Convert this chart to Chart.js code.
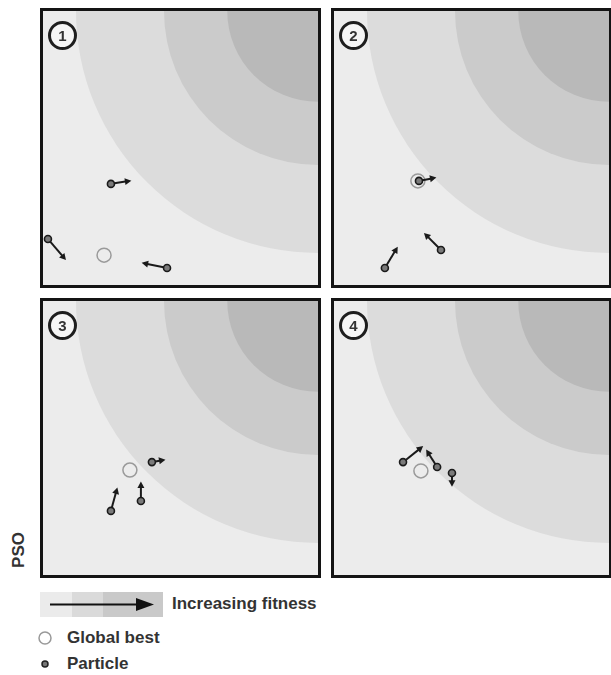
<!DOCTYPE html>
<html>
<head>
<meta charset="utf-8">
<script src="https://cdn.jsdelivr.net/npm/chart.js@4.4.0/dist/chart.umd.min.js"></script>
<style>
 body { margin: 0; background: #fff; font-family: "Liberation Sans", Arial, sans-serif; }
 .panel { position: absolute; width: 275px; height: 274px; border: 3px solid #141414; background: #ececec; overflow: hidden; }
 .panel canvas { position: absolute; left: -20px; top: -20px; display: block; }
 #pso { position: absolute; font-size: 17px; font-weight: bold; color: #333;
        transform: translate(-50%, -50%) rotate(-90deg); left: 19px; top: 550px; }
 .lg { position: absolute; font-size: 17px; font-weight: bold; color: #333; line-height: 20px; }
 .bar { position: absolute; left: 40px; top: 592px; width: 123px; height: 25px; }
 .bar div { position: absolute; top: 0; height: 25px; }
</style>
</head>
<body>

<div class="panel" style="left:40px; top:8px;"><canvas id="c1" width="315" height="314"></canvas></div>
<div class="panel" style="left:331px; top:8px;"><canvas id="c2" width="315" height="314"></canvas></div>
<div class="panel" style="left:40px; top:298px;"><canvas id="c3" width="315" height="314"></canvas></div>
<div class="panel" style="left:331px; top:298px;"><canvas id="c4" width="315" height="314"></canvas></div>

<div id="pso">PSO</div>

<div class="bar">
  <div style="left:0; width:32px; background:#ebebeb;"></div>
  <div style="left:32px; width:31px; background:#dadada;"></div>
  <div style="left:63px; width:60px; background:#c9c9c9;"></div>
  <svg width="123" height="25" style="position:absolute;left:0;top:0;">
    <line x1="10" y1="12.5" x2="100" y2="12.5" stroke="#111" stroke-width="2"/>
    <polygon points="96,6 114,12.5 96,19" fill="#111"/>
  </svg>
</div>
<div class="lg" style="left:172px; top:594px;">Increasing fitness</div>
<svg width="20" height="20" style="position:absolute;left:35px;top:628px;">
  <circle cx="10" cy="10" r="6" fill="none" stroke="#999" stroke-width="1.5"/>
</svg>
<div class="lg" style="left:67px; top:628px;">Global best</div>
<svg width="20" height="20" style="position:absolute;left:35px;top:654px;">
  <circle cx="10" cy="10" r="3" fill="#777" stroke="#222" stroke-width="1.5"/>
</svg>
<div class="lg" style="left:67px; top:654px;">Particle</div>

<script>
// fitness contours (centre in the top-right corner, radii in data units)
var contourCenter = [100, 100];
var contourRadii = [88, 56, 33];
var contourColors = ['#dcdcdc', '#cbcbcb', '#b9b9b9'];
var outerColor = '#ececec';

var stepLabels = ['1', '2', '3', '4'];

// global best per step
var bestX = [22.2, 30.5, 31.6, 31.6];
var bestY = [10.9, 38.0, 38.3, 38.0];

// particle positions per step
var particleX = [
  [24.7, 1.8, 45.1],
  [30.9, 38.9, 18.5],
  [39.6, 24.7, 35.6],
  [25.1, 37.5, 42.9]
];
var particleY = [
  [36.9, 16.8, 6.2],
  [38.0, 12.8, 6.2],
  [41.2, 23.4, 27.0],
  [41.2, 39.4, 37.2]
];

// particle velocities per step
var velocityX = [
  [6.9, 6.2, -8.7],
  [5.8, -5.8, 4.4],
  [4.4, 2.2, 0.0],
  [6.9, -3.7, 0.0]
];
var velocityY = [
  [1.1, -7.3, 1.8],
  [1.1, 5.8, 7.3],
  [0.8, 8.0, 6.6],
  [5.5, 5.9, -4.4]
];

var fitnessPlugin = {
  id: 'fitness',
  beforeDatasetsDraw: function(chart) {
    var ctx = chart.ctx, a = chart.chartArea;
    var xs = chart.scales.x, ys = chart.scales.y;
    var cx = xs.getPixelForValue(contourCenter[0]);
    var cy = ys.getPixelForValue(contourCenter[1]);
    ctx.save();
    ctx.beginPath();
    ctx.rect(a.left, a.top, a.right - a.left, a.bottom - a.top);
    ctx.clip();
    ctx.fillStyle = outerColor;
    ctx.fillRect(a.left, a.top, a.right - a.left, a.bottom - a.top);
    for (var i = 0; i < contourRadii.length; i++) {
      var r = xs.getPixelForValue(contourCenter[0] + contourRadii[i]) - cx;
      ctx.beginPath();
      ctx.arc(cx, cy, r, 0, Math.PI * 2);
      ctx.fillStyle = contourColors[i];
      ctx.fill();
    }
    ctx.restore();
  }
};

var arrowPlugin = {
  id: 'arrows',
  afterDatasetsDraw: function(chart, args, opts) {
    var ctx = chart.ctx, a = chart.chartArea;
    var xs = chart.scales.x, ys = chart.scales.y;
    var s = opts.step;
    ctx.save();
    ctx.strokeStyle = '#1a1a1a';
    ctx.fillStyle = '#1a1a1a';
    ctx.lineWidth = 2;
    for (var i = 0; i < particleX[s].length; i++) {
      var x0 = xs.getPixelForValue(particleX[s][i]);
      var y0 = ys.getPixelForValue(particleY[s][i]);
      var x1 = xs.getPixelForValue(particleX[s][i] + velocityX[s][i]);
      var y1 = ys.getPixelForValue(particleY[s][i] + velocityY[s][i]);
      var c = Math.cos(Math.atan2(y1 - y0, x1 - x0)), sn = Math.sin(Math.atan2(y1 - y0, x1 - x0));
      ctx.beginPath();
      ctx.moveTo(x0 + c * 3.5, y0 + sn * 3.5);
      ctx.lineTo(x1 - c * 3, y1 - sn * 3);
      ctx.stroke();
      ctx.beginPath();
      ctx.moveTo(x1 + c * 1.5, y1 + sn * 1.5);
      ctx.lineTo(x1 - c * 5 - sn * 3.5, y1 - sn * 5 + c * 3.5);
      ctx.lineTo(x1 - c * 5 + sn * 3.5, y1 - sn * 5 - c * 3.5);
      ctx.closePath();
      ctx.fill();
    }
    // step badge
    var bx = a.left + 19.5, by = a.top + 24.5;
    ctx.beginPath();
    ctx.arc(bx, by, 13, 0, Math.PI * 2);
    ctx.fillStyle = '#f6f6f6';
    ctx.fill();
    ctx.lineWidth = 3;
    ctx.strokeStyle = '#1e1e1e';
    ctx.stroke();
    ctx.fillStyle = '#333';
    ctx.font = 'bold 15px "Liberation Sans", Arial, sans-serif';
    ctx.textAlign = 'center';
    ctx.textBaseline = 'middle';
    ctx.fillText(stepLabels[s], bx, by + 1);
    ctx.restore();
  }
};

function makePanel(id, s) {
  var pts = [];
  for (var i = 0; i < particleX[s].length; i++) {
    pts.push({ x: particleX[s][i], y: particleY[s][i] });
  }
  new Chart(document.getElementById(id), {
    type: 'scatter',
    data: {
      datasets: [
        {
          label: 'Global best',
          data: [{ x: bestX[s], y: bestY[s] }],
          pointRadius: 7,
          backgroundColor: 'rgba(0,0,0,0)',
          borderColor: '#9a9a9a',
          borderWidth: 1.5
        },
        {
          label: 'Particle',
          data: pts,
          pointRadius: 3.5,
          backgroundColor: '#7a7a7a',
          borderColor: '#1a1a1a',
          borderWidth: 1.6
        }
      ]
    },
    options: {
      responsive: false,
      animation: false,
      layout: { padding: 20 },
      plugins: { legend: { display: false }, tooltip: { enabled: false }, arrows: { step: s } },
      scales: {
        x: { type: 'linear', min: 0, max: 100, display: false },
        y: { type: 'linear', min: 0, max: 100, display: false }
      }
    },
    plugins: [fitnessPlugin, arrowPlugin]
  });
}

makePanel('c1', 0);
makePanel('c2', 1);
makePanel('c3', 2);
makePanel('c4', 3);
</script>
</body>
</html>
